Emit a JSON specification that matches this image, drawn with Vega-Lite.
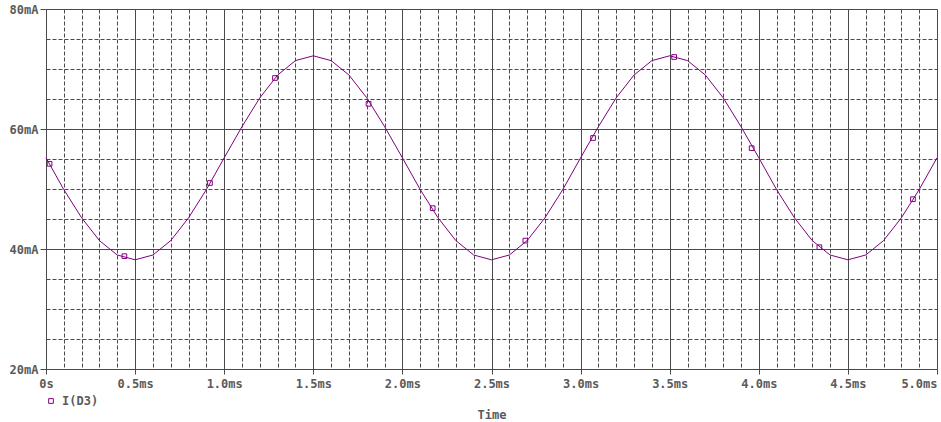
{
  "$schema": "https://vega.github.io/schema/vega-lite/v6.json",
  "width": 891,
  "height": 360,
  "autosize": {"type": "none"},
  "padding": {"left": 46, "top": 9, "right": 4, "bottom": 53},
  "background": "white",
  "config": {
    "view": {"stroke": null},
    "font": "DejaVu Sans Mono",
    "axis": {
      "labelFont": "DejaVu Sans Mono",
      "labelFontSize": 12,
      "labelFontWeight": "bold",
      "labelColor": "#5a5a5a",
      "titleFont": "DejaVu Sans Mono",
      "titleFontSize": 12,
      "titleFontWeight": "bold",
      "titleColor": "#5a5a5a",
      "domainColor": "#4a4a4a",
      "gridColor": "#4a4a4a",
      "tickColor": "#4a4a4a",
      "gridOpacity": 1
    },
    "legend": {
      "labelFont": "DejaVu Sans Mono",
      "labelFontSize": 12,
      "labelFontWeight": "bold",
      "labelColor": "#5a5a5a"
    }
  },
  "datasets": {
    "curve": [
      {"t": 0.0, "v": 55.2}, {"t": 0.1, "v": 49.9}, {"t": 0.2, "v": 45.2}, {"t": 0.3, "v": 41.4}, {"t": 0.4, "v": 39.0},
      {"t": 0.5, "v": 38.2}, {"t": 0.6, "v": 39.0}, {"t": 0.7, "v": 41.4}, {"t": 0.8, "v": 45.2}, {"t": 0.9, "v": 49.9},
      {"t": 1.0, "v": 55.2}, {"t": 1.1, "v": 60.4}, {"t": 1.2, "v": 65.2}, {"t": 1.3, "v": 69.0}, {"t": 1.4, "v": 71.4},
      {"t": 1.5, "v": 72.2}, {"t": 1.6, "v": 71.4}, {"t": 1.7, "v": 69.0}, {"t": 1.8, "v": 65.2}, {"t": 1.9, "v": 60.4},
      {"t": 2.0, "v": 55.2}, {"t": 2.1, "v": 49.9}, {"t": 2.2, "v": 45.2}, {"t": 2.3, "v": 41.4}, {"t": 2.4, "v": 39.0},
      {"t": 2.5, "v": 38.2}, {"t": 2.6, "v": 39.0}, {"t": 2.7, "v": 41.4}, {"t": 2.8, "v": 45.2}, {"t": 2.9, "v": 49.9},
      {"t": 3.0, "v": 55.2}, {"t": 3.1, "v": 60.4}, {"t": 3.2, "v": 65.2}, {"t": 3.3, "v": 69.0}, {"t": 3.4, "v": 71.4},
      {"t": 3.5, "v": 72.2}, {"t": 3.6, "v": 71.4}, {"t": 3.7, "v": 69.0}, {"t": 3.8, "v": 65.2}, {"t": 3.9, "v": 60.4},
      {"t": 4.0, "v": 55.2}, {"t": 4.1, "v": 49.9}, {"t": 4.2, "v": 45.2}, {"t": 4.3, "v": 41.4}, {"t": 4.4, "v": 39.0},
      {"t": 4.5, "v": 38.2}, {"t": 4.6, "v": 39.0}, {"t": 4.7, "v": 41.4}, {"t": 4.8, "v": 45.2}, {"t": 4.9, "v": 49.9},
      {"t": 5.0, "v": 55.2}
    ],
    "markers": [
      {"t": 0.02, "v": 54.2, "series": "I(D3)"},
      {"t": 0.44, "v": 38.8, "series": "I(D3)"},
      {"t": 0.92, "v": 51.0, "series": "I(D3)"},
      {"t": 1.285, "v": 68.5, "series": "I(D3)"},
      {"t": 1.81, "v": 64.2, "series": "I(D3)"},
      {"t": 2.17, "v": 46.8, "series": "I(D3)"},
      {"t": 2.69, "v": 41.4, "series": "I(D3)"},
      {"t": 3.07, "v": 58.5, "series": "I(D3)"},
      {"t": 3.525, "v": 72.0, "series": "I(D3)"},
      {"t": 3.96, "v": 56.8, "series": "I(D3)"},
      {"t": 4.34, "v": 40.3, "series": "I(D3)"},
      {"t": 4.865, "v": 48.3, "series": "I(D3)"}
    ]
  },
  "encoding": {
    "x": {
      "field": "t",
      "type": "quantitative",
      "scale": {"domain": [0, 5], "nice": false, "zero": false},
      "axis": {
        "title": "Time",
        "titlePadding": 20,
        "values": [0,0.1,0.2,0.3,0.4,0.5,0.6,0.7,0.8,0.9,1,1.1,1.2,1.3,1.4,1.5,1.6,1.7,1.8,1.9,2,2.1,2.2,2.3,2.4,2.5,2.6,2.7,2.8,2.9,3,3.1,3.2,3.3,3.4,3.5,3.6,3.7,3.8,3.9,4,4.1,4.2,4.3,4.4,4.5,4.6,4.7,4.8,4.9,5],
        "labelExpr": "round(datum.value*10) % 5 == 0 ? (datum.value == 0 ? '0s' : format(datum.value, '.1f') + 'ms') : ''",
        "labelOverlap": false,
        "labelFlush": false,
        "labelPadding": 4,
        "labelAlign": {"condition": {"test": "datum.value >= 5", "value": "right"}, "value": "center"},
        "tickSize": 5,
        "tickOpacity": {"condition": {"test": "round(datum.value*10) % 5 == 0", "value": 1}, "value": 0},
        "grid": true,
        "gridDash": {"condition": {"test": "round(datum.value*10) % 5 == 0", "value": []}, "value": [4, 2]},
        "gridWidth": 1
      }
    },
    "y": {
      "field": "v",
      "type": "quantitative",
      "scale": {"domain": [20, 80], "nice": false, "zero": false},
      "axis": {
        "title": null,
        "values": [20,25,30,35,40,45,50,55,60,65,70,75,80],
        "labelExpr": "datum.value % 20 == 0 ? datum.value + 'mA' : ''",
        "labelOverlap": false,
        "labelFlush": false,
        "labelPadding": 2,
        "tickSize": 6,
        "tickOpacity": {"condition": {"test": "datum.value % 20 == 0", "value": 1}, "value": 0},
        "grid": true,
        "gridDash": {"condition": {"test": "datum.value % 20 == 0", "value": []}, "value": [4, 2]},
        "gridWidth": 1
      }
    }
  },
  "layer": [
    {
      "data": {"name": "curve"},
      "mark": {"type": "line", "color": "#800080", "strokeWidth": 1, "interpolate": "linear"}
    },
    {
      "data": {"name": "markers"},
      "mark": {"type": "point", "shape": "square", "filled": false, "size": 22, "strokeWidth": 1, "opacity": 1},
      "encoding": {
        "color": {
          "field": "series",
          "type": "nominal",
          "scale": {"range": ["#800080"]},
          "legend": {
            "title": null,
            "orient": "none",
            "legendX": -1,
            "legendY": 386,
            "symbolType": "square",
            "symbolSize": 22,
            "symbolStrokeWidth": 1,
            "symbolFillColor": "white",
            "padding": 0,
            "labelOffset": 5
          }
        }
      }
    }
  ]
}
